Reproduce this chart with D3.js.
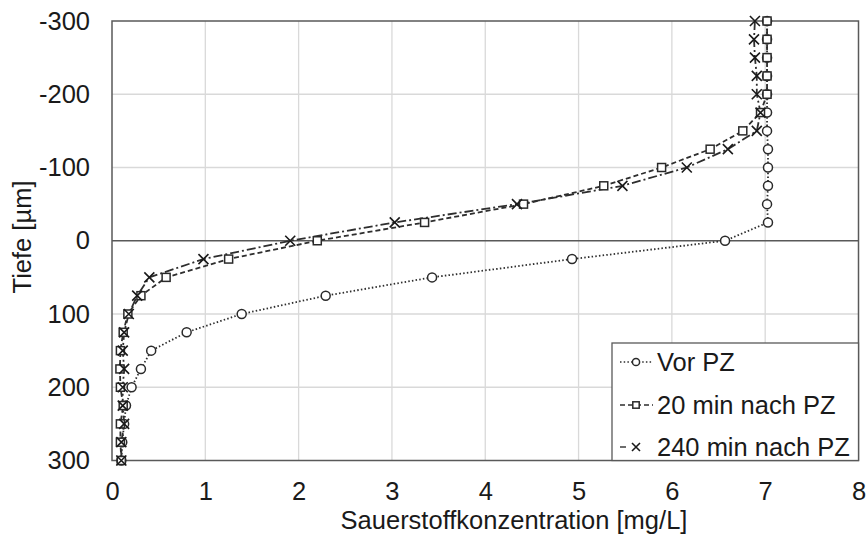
<!DOCTYPE html>
<html><head><meta charset="utf-8">
<script src="https://cdn.jsdelivr.net/npm/d3@7"></script>
<style>body{margin:0;background:#fff}svg{display:block}text{font-family:"Liberation Sans",Arial,sans-serif;fill:#1a1a1a}</style>
</head><body><svg id="c" width="867" height="536"></svg>
<script>
const depths = [-300,-275,-250,-225,-200,-175,-150,-125,-100,-75,-50,-25,0,25,50,75,100,125,150,175,200,225,250,275,300];
const vorPZ  = [7.02,7.02,7.02,7.02,7.02,7.02,7.02,7.03,7.03,7.03,7.02,7.03,6.57,4.93,3.43,2.29,1.39,0.80,0.42,0.31,0.21,0.15,0.13,0.11,0.10];
const min20  = [7.02,7.02,7.02,7.02,7.02,6.95,6.76,6.41,5.89,5.27,4.41,3.35,2.20,1.25,0.58,0.31,0.17,0.12,0.09,0.085,0.09,0.12,0.09,0.09,0.10];
const min240 = [6.89,6.88,6.89,6.91,6.91,6.95,6.91,6.60,6.16,5.47,4.34,3.03,1.91,0.98,0.40,0.27,0.18,0.13,0.115,0.13,0.115,0.115,0.13,0.10,0.10];
const seriesNames = ["Vor PZ","20 min nach PZ","240 min nach PZ"];
const xTicks = [0,1,2,3,4,5,6,7,8];
const yTicks = [-300,-200,-100,0,100,200,300];

const svg = d3.select("#c");
const L=112, R=858.5, T=21, B=460.5;
const x = d3.scaleLinear().domain([0,8]).range([L,R]);
const y = d3.scaleLinear().domain([-300,300]).range([T,B]);
const ink="#2e2e2e";
const FS=25.5;

// grid
svg.append("g").selectAll("line").data(xTicks.slice(1,-1)).join("line")
  .attr("x1",d=>x(d)).attr("x2",d=>x(d)).attr("y1",T).attr("y2",B)
  .attr("stroke","#d9d9d9").attr("stroke-width",1.3);
svg.append("g").selectAll("line").data(yTicks.filter(d=>d!==0 && d!==-300 && d!==300)).join("line")
  .attr("x1",L).attr("x2",R).attr("y1",d=>y(d)).attr("y2",d=>y(d))
  .attr("stroke","#d9d9d9").attr("stroke-width",1.3);

// frame
svg.append("rect").attr("x",L).attr("y",T).attr("width",R-L).attr("height",B-T)
  .attr("fill","none").attr("stroke","#595959").attr("stroke-width",1.5);
svg.append("line").attr("x1",L).attr("x2",R).attr("y1",y(0)).attr("y2",y(0))
  .attr("stroke","#595959").attr("stroke-width",1.5);

// axes labels via d3 axes
const xAxis = svg.append("g").attr("transform",`translate(0,${B})`)
  .call(d3.axisBottom(x).tickValues(xTicks).tickSize(0).tickPadding(21).tickFormat(d=>String(d)));
xAxis.select(".domain").remove();
xAxis.selectAll("text").attr("font-size",FS).style("font-family","Liberation Sans, Arial, sans-serif").attr("fill","#1a1a1a");
const yAxis = svg.append("g").attr("transform",`translate(${L},0)`)
  .call(d3.axisLeft(y).tickValues(yTicks).tickSize(0).tickPadding(22).tickFormat(d=>String(d)));
yAxis.select(".domain").remove();
yAxis.selectAll("text").attr("font-size",FS).style("font-family","Liberation Sans, Arial, sans-serif").attr("fill","#1a1a1a");

svg.append("text").attr("x",514).attr("y",529).attr("text-anchor","middle")
  .attr("font-size",FS).text("Sauerstoffkonzentration [mg/L]");
svg.append("text").attr("transform","translate(31,237) rotate(-90)").attr("text-anchor","middle")
  .attr("font-size",FS).text("Tiefe [µm]");

const dashes = ["1.5,2.2","5,3","9,3,2,3"];
const all = [vorPZ,min20,min240];
function marker(g,type,cx,cy,s){
  s = s||1;
  if(type===0) g.append("circle").attr("cx",cx).attr("cy",cy).attr("r",4.5*s).attr("fill","#fff").attr("stroke","#2a2a2a").attr("stroke-width",1.5);
  else if(type===1) g.append("rect").attr("x",cx-4*s).attr("y",cy-4*s).attr("width",8*s).attr("height",8*s).attr("fill","#fff").attr("stroke","#2a2a2a").attr("stroke-width",1.5);
  else { const h=5*s; g.append("path").attr("d",`M${cx-h},${cy-h}L${cx+h},${cy+h}M${cx-h},${cy+h}L${cx+h},${cy-h}`).attr("stroke","#1a1a1a").attr("stroke-width",1.6).attr("fill","none"); }
}
const line = d3.line().x(d=>x(d[0])).y(d=>y(d[1]));
all.forEach((vals,i)=>{
  const pts = vals.map((v,j)=>[v,depths[j]]);
  svg.append("path").datum(pts).attr("d",line).attr("fill","none").attr("stroke",ink)
    .attr("stroke-width",1.8).attr("stroke-dasharray",dashes[i]);
});
all.forEach((vals,i)=>{
  const g = svg.append("g");
  vals.forEach((v,j)=>marker(g,i,x(v),y(depths[j])));
});

// legend
const lg = svg.append("g");
lg.append("rect").attr("x",612).attr("y",343).attr("width",246.5).attr("height",117.5)
  .attr("fill","#fff").attr("stroke","#595959").attr("stroke-width",1.3);
const rows=[362,405,447];
seriesNames.forEach((n,i)=>{
  lg.append("line").attr("x1",620).attr("x2",i===2?629:653).attr("y1",rows[i]).attr("y2",rows[i])
    .attr("stroke",ink).attr("stroke-width",1.4).attr("stroke-dasharray",i===2?"6,20":dashes[i]);
  marker(lg,i,636,rows[i],0.8);
  lg.append("text").attr("x",657).attr("y",rows[i]+9).attr("font-size",FS).text(n);
});
</script></body></html>
